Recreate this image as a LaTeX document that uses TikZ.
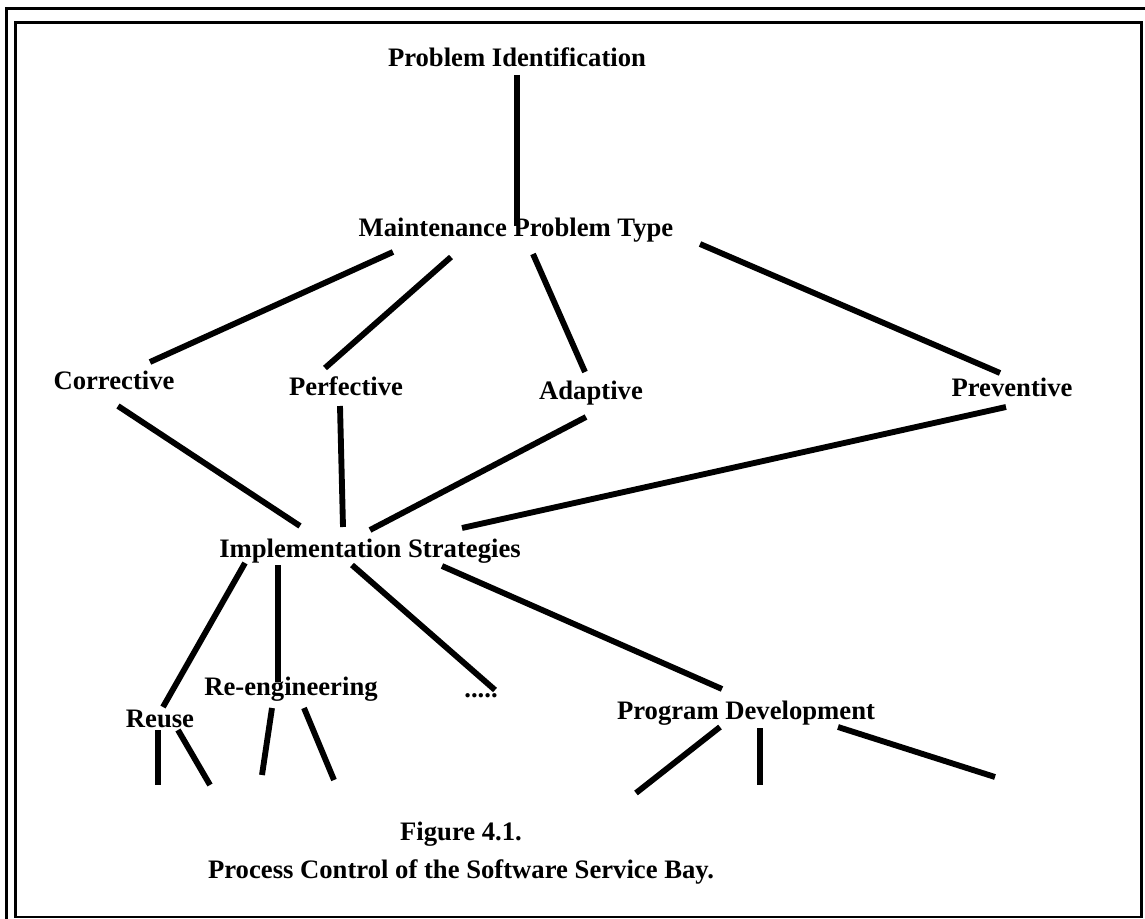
\documentclass[tikz,border=0pt]{standalone}
\usepackage{fontspec}
\setmainfont{Liberation Serif}
\begin{document}
\begin{tikzpicture}[x=0.75pt,y=-0.75pt,
  lbl/.style={font=\fontsize{20}{24}\selectfont\bfseries, inner sep=0pt, anchor=base},
  link/.style={line width=4.4pt},
  frameout/.style={line width=2.6pt},
  framein/.style={line width=1.6pt}]
\useasboundingbox (0,0) rectangle (1145,919);
% double frame
\draw[frameout] (6.5,8.5) rectangle (1160,935);
\draw[framein] (15.5,22.5) rectangle (1141.5,917);

% labels
\node[lbl] (pi)  at (517,67)  {Problem Identification};
\node[lbl] (mpt) at (516,237) {Maintenance Problem Type};
\node[lbl] (cor) at (114,390) {Corrective};
\node[lbl] (per) at (346,396) {Perfective};
\node[lbl] (ada) at (591,400) {Adaptive};
\node[lbl] (pre) at (1012,397) {Preventive};
\node[lbl] (imp) at (370,557) {Implementation Strategies};
\node[lbl] (reu) at (160,727) {Reuse};
\node[lbl] (ree) at (291,695) {Re-engineering};
\node[lbl] (dots) at (481,697) {.....};
\node[lbl] (pd)  at (746,719) {Program Development};
\node[lbl] (fig) at (461,840) {Figure 4.1.};
\node[lbl] (cap) at (461,878) {Process Control of the Software Service Bay.};

% connector end points
\coordinate (pi-b)  at (517,75);
\coordinate (mpt-t) at (517,226);
\coordinate (mpt-1) at (393,252);
\coordinate (mpt-2) at (451,257);
\coordinate (mpt-3) at (533,254);
\coordinate (mpt-4) at (700,244);
\coordinate (cor-t) at (150,362);
\coordinate (per-t) at (325,368);
\coordinate (ada-t) at (585,372);
\coordinate (pre-t) at (1000,373);
\coordinate (cor-b) at (118,406);
\coordinate (per-b) at (340,406);
\coordinate (ada-b) at (586,417);
\coordinate (pre-b) at (1006,407);
\coordinate (imp-1) at (300,526);
\coordinate (imp-2) at (343,527);
\coordinate (imp-3) at (370,530);
\coordinate (imp-4) at (462,528);
\coordinate (imp-5) at (245,563);
\coordinate (imp-6) at (278,565);
\coordinate (imp-7) at (352,565);
\coordinate (imp-8) at (442,566);
\coordinate (reu-t) at (163,707);
\coordinate (ree-t) at (278,682);
\coordinate (dots-t) at (495,690);
\coordinate (pd-t)  at (722,689);
\coordinate (reu-1) at (158,730);
\coordinate (reu-2) at (178,730);
\coordinate (reu-1e) at (158,785);
\coordinate (reu-2e) at (210,785);
\coordinate (ree-1) at (272,708);
\coordinate (ree-2) at (304,708);
\coordinate (ree-1e) at (262,775);
\coordinate (ree-2e) at (334,780);
\coordinate (pd-1) at (720,727);
\coordinate (pd-2) at (760,728);
\coordinate (pd-3) at (838,727);
\coordinate (pd-1e) at (636,793);
\coordinate (pd-2e) at (760,785);
\coordinate (pd-3e) at (995,777);

% connectors
\draw[link] (pi-b) -- (mpt-t);
\draw[link] (mpt-1) -- (cor-t);
\draw[link] (mpt-2) -- (per-t);
\draw[link] (mpt-3) -- (ada-t);
\draw[link] (mpt-4) -- (pre-t);
\draw[link] (cor-b) -- (imp-1);
\draw[link] (per-b) -- (imp-2);
\draw[link] (ada-b) -- (imp-3);
\draw[link] (pre-b) -- (imp-4);
\draw[link] (imp-5) -- (reu-t);
\draw[link] (imp-6) -- (ree-t);
\draw[link] (imp-7) -- (dots-t);
\draw[link] (imp-8) -- (pd-t);
\draw[link] (reu-1) -- (reu-1e);
\draw[link] (reu-2) -- (reu-2e);
\draw[link] (ree-1) -- (ree-1e);
\draw[link] (ree-2) -- (ree-2e);
\draw[link] (pd-1) -- (pd-1e);
\draw[link] (pd-2) -- (pd-2e);
\draw[link] (pd-3) -- (pd-3e);
\end{tikzpicture}
\end{document}
